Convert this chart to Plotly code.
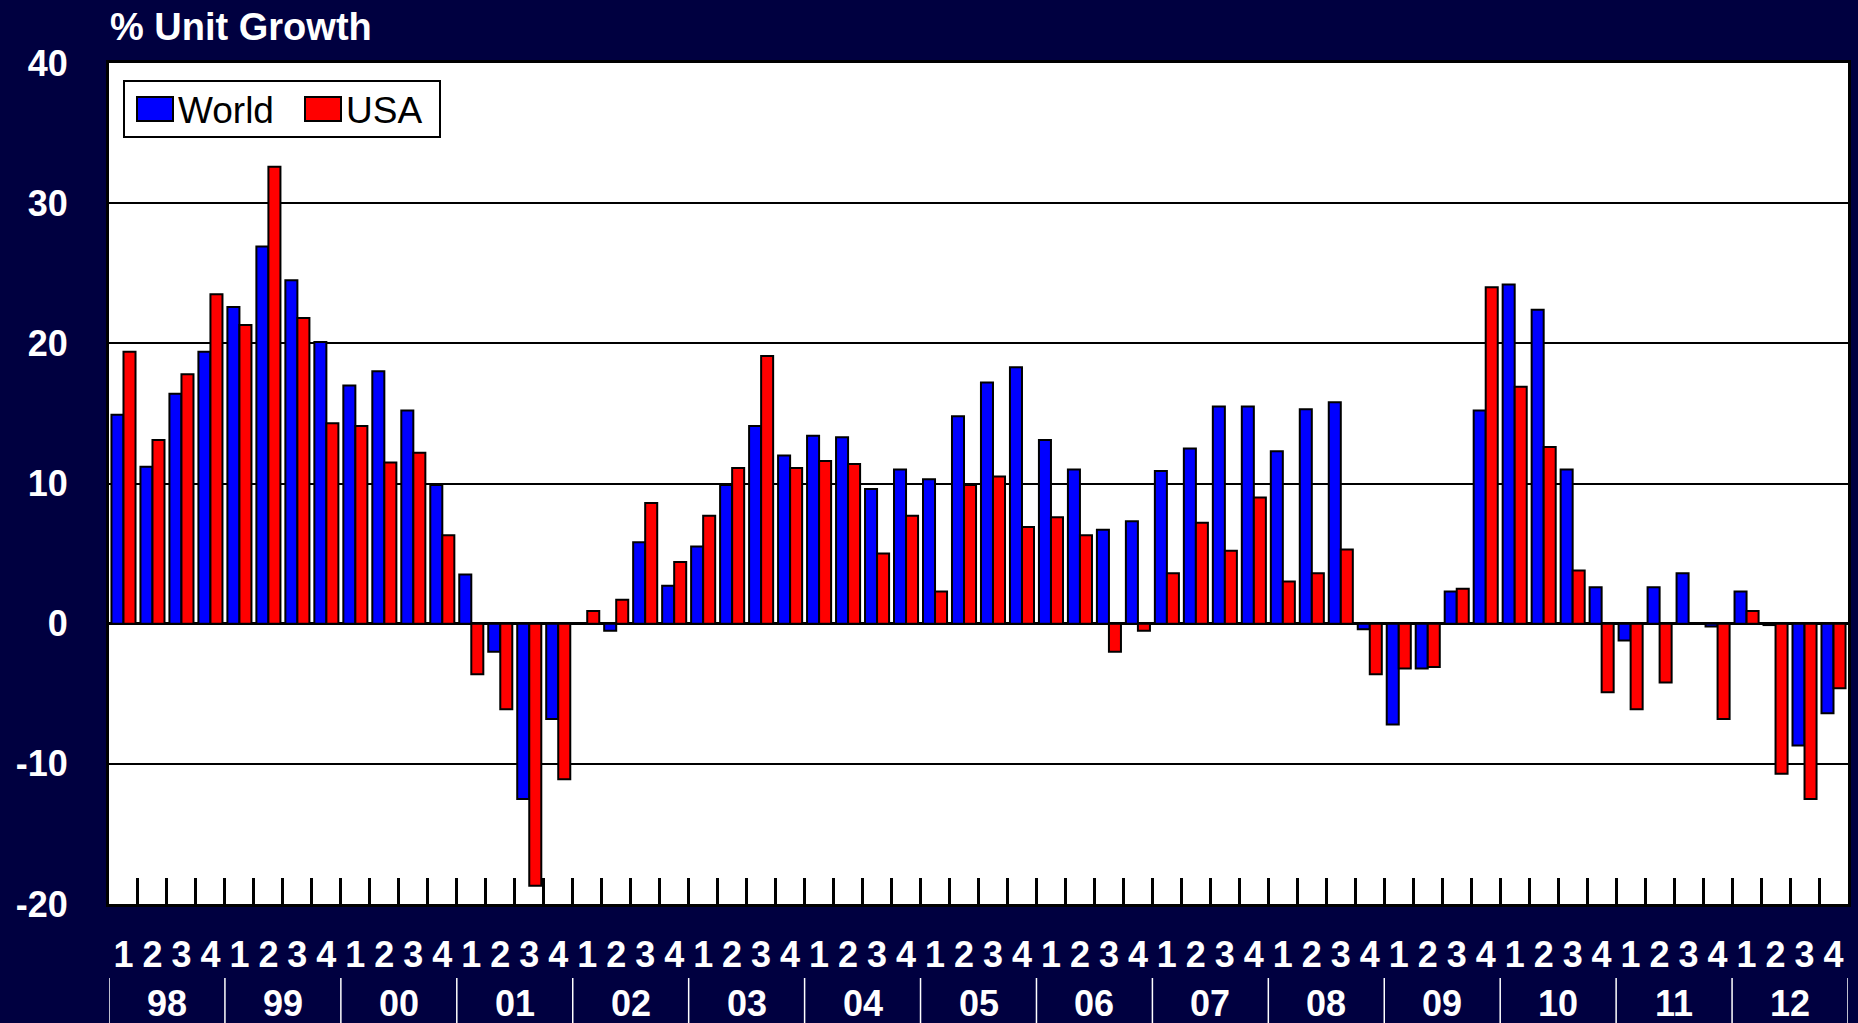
import plotly.graph_objects as go

# ---- data -------------------------------------------------------------
years = ["98", "99", "00", "01", "02", "03", "04", "05", "06", "07", "08", "09", "10", "11", "12"]
quarters = ["1", "2", "3", "4"]

world = [14.9, 11.2, 16.4, 19.4,
         22.6, 26.9, 24.5, 20.1,
         17.0, 18.0, 15.2, 9.9,
         3.5, -2.0, -12.5, -6.8,
         0.0, -0.5, 5.8, 2.7,
         5.5, 9.9, 14.1, 12.0,
         13.4, 13.3, 9.6, 11.0,
         10.3, 14.8, 17.2, 18.3,
         13.1, 11.0, 6.7, 7.3,
         10.9, 12.5, 15.5, 15.5,
         12.3, 15.3, 15.8, -0.4,
         -7.2, -3.2, 2.3, 15.2,
         24.2, 22.4, 11.0, 2.6,
         -1.2, 2.6, 3.6, -0.2,
         2.3, -0.1, -8.7, -6.4]

usa = [19.4, 13.1, 17.8, 23.5,
       21.3, 32.6, 21.8, 14.3,
       14.1, 11.5, 12.2, 6.3,
       -3.6, -6.1, -18.7, -11.1,
       0.9, 1.7, 8.6, 4.4,
       7.7, 11.1, 19.1, 11.1,
       11.6, 11.4, 5.0, 7.7,
       2.3, 9.9, 10.5, 6.9,
       7.6, 6.3, -2.0, -0.5,
       3.6, 7.2, 5.2, 9.0,
       3.0, 3.6, 5.3, -3.6,
       -3.2, -3.1, 2.5, 24.0,
       16.9, 12.6, 3.8, -4.9,
       -6.1, -4.2, 0.0, -6.8,
       0.9, -10.7, -12.5, -4.6]

y_ticks = [-20, -10, 0, 10, 20, 30, 40]
y_tick_text = ["-20", "-10", "0", "10", "20", "30", "40"]
title_text = "% Unit Growth"
series_names = ["World", "USA"]

# ---- derived ----------------------------------------------------------
categories = [f"{y} Q{q}" for y in years for q in quarters]
quarter_text = [q for y in years for q in quarters]

W, H = 1858, 1023
L, R, T, B = 109, 1848, 63, 904          # plot area in pixels


def px_x(p):
    return (p - L) / (R - L)


def px_y(p):
    return (B - p) / (B - T)


BG = "#000040"
BLUE = "#0000FF"
RED = "#FF0000"
FONT = "Liberation Sans, Arial, sans-serif"

fig = go.Figure()
fig.add_trace(go.Bar(x=categories, y=world, name=series_names[0],
                     marker=dict(color=BLUE, line=dict(color="black", width=2)),
                     showlegend=False))
fig.add_trace(go.Bar(x=categories, y=usa, name=series_names[1],
                     marker=dict(color=RED, line=dict(color="black", width=2)),
                     showlegend=False))

shapes = []
annotations = []

# year dividers and labels below the quarter numbers
n_years = len(years)
for i in range(n_years + 1):
    shapes.append(dict(type="line", xref="x", yref="paper",
                       x0=i * 4 - 0.5, x1=i * 4 - 0.5,
                       y0=px_y(978), y1=px_y(1023),
                       line=dict(color="white", width=1.5)))
for i, yr in enumerate(years):
    annotations.append(dict(text=yr, xref="x", yref="paper",
                            x=i * 4 + 1.5, y=px_y(1003),
                            xanchor="center", yanchor="middle", showarrow=False,
                            font=dict(family=FONT, size=36, color="white", weight="bold")))

# title
annotations.append(dict(text=title_text, xref="paper", yref="paper",
                        x=px_x(108), y=px_y(27), xanchor="left", yanchor="middle",
                        showarrow=False,
                        font=dict(family=FONT, size=38, color="white", weight="bold")))

# legend box (drawn to match reference size)
shapes.append(dict(type="rect", xref="paper", yref="paper",
                   x0=px_x(124), x1=px_x(440), y0=px_y(137), y1=px_y(81),
                   fillcolor="white", line=dict(color="black", width=2), layer="above"))
for name, col, sx0, tx in [(series_names[0], BLUE, 137, 176), (series_names[1], RED, 305, 344)]:
    shapes.append(dict(type="rect", xref="paper", yref="paper",
                       x0=px_x(sx0), x1=px_x(sx0 + 36), y0=px_y(121), y1=px_y(97),
                       fillcolor=col, line=dict(color="black", width=2), layer="above"))
    annotations.append(dict(text=name, xref="paper", yref="paper",
                            x=px_x(tx), y=px_y(111), xanchor="left", yanchor="middle",
                            showarrow=False,
                            font=dict(family=FONT, size=37, color="black")))

fig.update_layout(
    width=W, height=H,
    margin=dict(l=L, r=W - R, t=T, b=H - B, pad=0, autoexpand=False),
    paper_bgcolor=BG, plot_bgcolor="white",
    barmode="group", bargap=0.17, bargroupgap=0.0,
    showlegend=False,
    shapes=shapes, annotations=annotations,
)

fig.update_xaxes(
    type="category", automargin=False,
    range=[-0.5, len(categories) - 0.5],
    tickmode="array", tickvals=categories, ticktext=quarter_text, tickangle=0,
    tickson="boundaries", ticks="inside", ticklen=26, tickwidth=2.5, tickcolor="black",
    tickfont=dict(family=FONT, size=36, color="white", weight="bold"),
    ticklabelstandoff=17,
    showgrid=False,
    showline=True, linecolor="black", linewidth=3, mirror=True,
)

fig.update_yaxes(
    automargin=False,
    range=[y_ticks[0], y_ticks[-1]],
    tickmode="array", tickvals=y_ticks, ticktext=y_tick_text,
    ticks="", ticklabelstandoff=31,
    tickfont=dict(family=FONT, size=36, color="white", weight="bold"),
    showgrid=True, gridcolor="black", gridwidth=2,
    zeroline=True, zerolinecolor="black", zerolinewidth=3,
    showline=True, linecolor="black", linewidth=3, mirror=True,
)

fig.write_html(
    "out.html",
    config={"displayModeBar": False},
    post_script="document.body.style.margin='0';document.body.style.background='" + BG + "';",
)
